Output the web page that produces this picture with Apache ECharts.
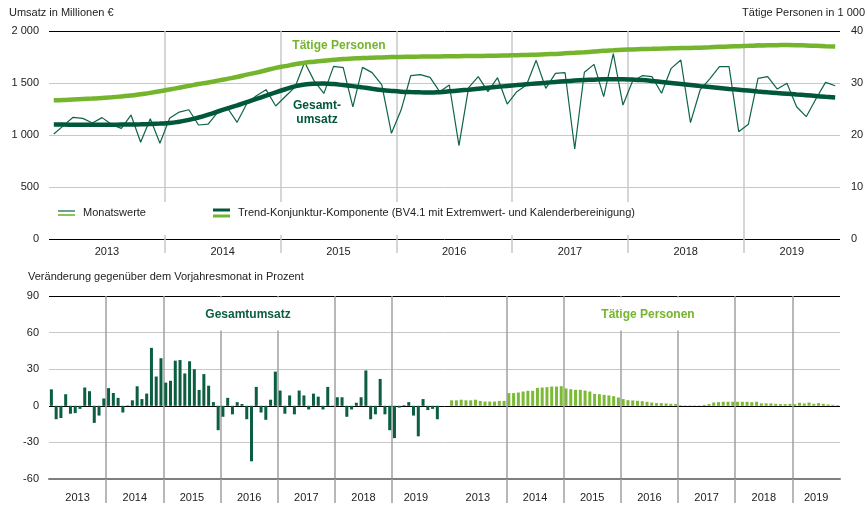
<!DOCTYPE html>
<html>
<head>
<meta charset="utf-8">
<script src="https://cdn.jsdelivr.net/npm/echarts@6/dist/echarts.min.js"></script>
<style>
  html, body { margin: 0; padding: 0; background: #fff; }
  #chart { width: 867px; height: 506px; }
</style>
</head>
<body>
<div id="chart"></div>
<script>
// Jahre und Positionen der Jahresbeschriftung (in Monaten ab Jan 2013)
var years = ['2013', '2014', '2015', '2016', '2017', '2018', '2019'];
var yearLabelPos = [6, 18, 30, 42, 54, 66, 77];
var yearBreaks = [12, 24, 36, 48, 60, 72];

// Umsatz in Millionen € – Monatswerte
var umsatzMonat = [
  1010, 1090, 1170, 1160, 1115, 1167, 1100, 1064, 1192, 930, 1157, 920,
  1160, 1220, 1243, 1096, 1104, 1220, 1260, 1122, 1300, 1378, 1436, 1279,
  1370, 1460, 1699, 1518, 1400, 1660, 1647, 1270, 1650, 1600, 1481, 1016,
  1240, 1570, 1580, 1554, 1417, 1481, 897, 1455, 1561, 1417, 1551, 1298,
  1417, 1481, 1718, 1449, 1593, 1599, 865, 1603, 1679, 1369, 1782, 1288,
  1520, 1570, 1561, 1401, 1641, 1721, 1119, 1433, 1540, 1657, 1657, 1032,
  1103, 1545, 1561, 1442, 1497, 1272, 1176, 1346, 1506, 1474
];
// Umsatz – Trend-Konjunktur-Komponente
var umsatzTrend = [
  1100, 1100, 1099, 1098, 1098, 1098, 1099, 1100, 1101, 1103, 1106, 1110,
  1115, 1128, 1145, 1168, 1196, 1226, 1256, 1285, 1315, 1347, 1378, 1410,
  1440, 1468, 1486, 1493, 1494, 1490, 1480, 1470, 1458, 1445, 1433, 1424,
  1417, 1413, 1410, 1408, 1412, 1420, 1428, 1436, 1445, 1454, 1463, 1472,
  1480, 1488, 1495, 1502, 1510, 1517, 1523, 1528, 1532, 1535, 1536, 1536,
  1533, 1528, 1520, 1510, 1500, 1490, 1480, 1470, 1461, 1452, 1443, 1435,
  1427, 1418, 1410, 1403, 1397, 1390, 1383, 1375, 1367, 1360
];
// Tätige Personen in 1 000 – Monatswerte
var personenMonat = [
  26.65, 26.7, 26.8, 26.95, 27.05, 27.1, 27.2, 27.4, 27.6, 27.8, 28.0, 28.3,
  28.9, 29.15, 29.4, 29.75, 30.1, 30.4, 30.8, 31.1, 31.55, 32.0, 32.4, 32.85,
  33.2, 33.55, 33.9, 34.1, 34.25, 34.45, 34.6, 34.7, 34.75, 34.85, 34.9, 34.95,
  35.0, 35.05, 35.1, 35.1, 35.15, 35.1, 35.15, 35.2, 35.2, 35.25, 35.25, 35.3,
  35.35, 35.4, 35.45, 35.5, 35.6, 35.7, 35.85, 35.95, 36.05, 36.15, 36.3, 36.4,
  36.45, 36.5, 36.55, 36.65, 36.65, 36.7, 36.75, 36.8, 36.9, 36.95, 37.0, 37.05,
  37.2, 37.5, 37.35, 37.3, 37.3, 37.25, 37.2, 37.1, 37.05, 37.0
];
// Tätige Personen – Trend-Konjunktur-Komponente
var personenTrend = [
  26.7, 26.75, 26.85, 26.92, 27.0, 27.1, 27.25, 27.42, 27.6, 27.85, 28.1, 28.4,
  28.75, 29.1, 29.45, 29.8, 30.1, 30.45, 30.8, 31.15, 31.6, 32.0, 32.45, 32.9,
  33.25, 33.6, 33.9, 34.1, 34.3, 34.45, 34.6, 34.7, 34.8, 34.87, 34.92, 34.98,
  35.02, 35.06, 35.08, 35.1, 35.12, 35.14, 35.16, 35.18, 35.2, 35.23, 35.26, 35.3,
  35.35, 35.4, 35.45, 35.52, 35.6, 35.7, 35.8, 35.92, 36.05, 36.18, 36.28, 36.38,
  36.46, 36.52, 36.57, 36.62, 36.67, 36.71, 36.75, 36.8, 36.87, 36.95, 37.02, 37.08,
  37.14, 37.2, 37.25, 37.28, 37.3, 37.28, 37.22, 37.15, 37.08, 37.02
];
// Veränderung gegenüber dem Vorjahresmonat in Prozent
var umsatzVeraenderung = [
  13.5, -11, -10, 9.5, -6.5, -6, -2.5, 15, 12, -14, -8, 6,
  14.5, 10.5, 6.5, -5.5, 0.3, 4.5, 16, 5.5, 10, 47.5, 24, 39,
  19, 20.5, 37, 37.5, 26.5, 36.5, 30, 13, 26, 16.5, 3, -20,
  -9, 6.5, -7, 3, 1.5, -11, -45.5, 15.5, -5.5, -11.5, 5, 28,
  12.5, -6.5, 8.5, -7, 12.5, 8.5, -3, 10, 7.5, -3, 15.5, 0.2,
  7, 7, -9, -3, 2.5, 7, 29, -11, -7, 22, -7, -20,
  -26.5, -1.5, 0.5, 3, -8, -25, 5.5, -3.5, -2.5, -11
];
var personenVeraenderung = [
  4.5, 4.5, 5, 4.5, 4.5, 5, 4, 3.5, 3.5, 3.5, 4, 4,
  10.4, 10.4, 10.9, 11.7, 12.3, 12.3, 14.7, 15, 15.3, 15.8, 15.8, 16.1,
  14.2, 13.6, 13.1, 13.1, 12.5, 11.7, 9.8, 9.5, 9, 8.5, 7.9, 6.8,
  5.5, 4.6, 4.4, 4.1, 3.8, 3.3, 2.7, 2.2, 2.2, 1.9, 1.6, 1.4,
  0.5, 0.3, 0.3, 0.3, 0.3, 0.8, 1.4, 2.7, 3, 3.3, 3.3, 3.3,
  3.3, 3.3, 3.3, 3, 3.3, 2, 2, 2, 1.6, 1.4, 1.4, 1.6,
  1.4, 2.5, 1.9, 2.7, 1.6, 2.2, 1.6, 1.1, 0.8, 0.5
];

var dunkel = '#00573b';
var hell = '#74b52d';
var font = "'Liberation Sans', Arial, sans-serif";

// Monatskategorien
var monate = [];
for (var y = 0; y < years.length; y++) {
  for (var m = 1; m <= 12; m++) {
    if (monate.length < umsatzMonat.length) monate.push(years[y] + '-' + (m < 10 ? '0' + m : m));
  }
}
// unteres Diagramm: Umsatz (volle 7 Jahre) + Personen nebeneinander
var slotsUmsatz = years.length * 12;
var katUnten = [];
var barsUmsatz = [];
var barsPersonen = [];
for (var i = 0; i < slotsUmsatz; i++) {
  katUnten.push('U' + i);
  barsUmsatz.push(i < umsatzVeraenderung.length ? umsatzVeraenderung[i] : null);
  barsPersonen.push(null);
}
for (var j = 0; j < personenVeraenderung.length; j++) {
  katUnten.push('P' + j);
  barsUmsatz.push(null);
  barsPersonen.push(personenVeraenderung[j]);
}
var breaksUnten = yearBreaks.concat(yearBreaks.map(function (b) { return b + slotsUmsatz; }));
var labelPosUnten = yearLabelPos.concat(yearLabelPos.map(function (b) { return b + slotsUmsatz; }));

function jahrLabel(pos) {
  return function (v) {
    var k = pos.indexOf(Math.round(v));
    return k < 0 ? '' : years[k % years.length];
  };
}
function tausend(v) {
  return String(v).replace(/\B(?=(\d{3})+(?!\d))/g, ' ');
}

var chart = echarts.init(document.getElementById('chart'));
var axisText = { color: '#222', fontSize: 11, fontFamily: font };

chart.setOption({
  animation: false,
  backgroundColor: '#fff',
  textStyle: { fontFamily: font },
  grid: [
    { left: 49, top: 31, width: 791, height: 208 },
    { left: 49, top: 296, width: 791, height: 183 }
  ],
  xAxis: [
    { type: 'category', gridIndex: 0, data: monate, show: false },
    {
      type: 'value', gridIndex: 0, min: 0, max: umsatzMonat.length, position: 'bottom',
      axisLine: { show: false, onZero: false },
      axisTick: { show: true, customValues: yearBreaks, length: 14, lineStyle: { color: '#c8c8c8', width: 1.5 } },
      splitLine: { show: true, lineStyle: { color: '#c8c8c8', width: 1.5 } },
      axisLabel: Object.assign({ customValues: yearLabelPos, margin: 7, formatter: jahrLabel(yearLabelPos) }, axisText)
    },
    { type: 'category', gridIndex: 1, data: katUnten, show: false },
    {
      type: 'value', gridIndex: 1, min: 0, max: katUnten.length, position: 'bottom',
      axisLine: { show: true, onZero: false, lineStyle: { color: '#7f7f7f', width: 2 } },
      axisTick: { show: true, customValues: breaksUnten, length: 24, lineStyle: { color: '#a0a0a0', width: 1.5 } },
      splitLine: { show: true, lineStyle: { color: '#a0a0a0', width: 1.5 } },
      axisLabel: Object.assign({ customValues: labelPosUnten, margin: 13, formatter: jahrLabel(labelPosUnten) }, axisText)
    }
  ],
  yAxis: [
    {
      type: 'value', gridIndex: 0, min: 0, max: 2000, interval: 500,
      axisLine: { show: false }, axisTick: { show: false },
      axisLabel: Object.assign({ margin: 10, formatter: tausend }, axisText),
      splitLine: { lineStyle: { color: ['#000', '#c8c8c8', '#c8c8c8', '#c8c8c8', '#000'], width: 1 } }
    },
    {
      type: 'value', gridIndex: 0, min: 0, max: 40, interval: 10, position: 'right',
      axisLine: { show: false }, axisTick: { show: false }, splitLine: { show: false },
      axisLabel: Object.assign({ margin: 11 }, axisText)
    },
    {
      type: 'value', gridIndex: 1, min: -60, max: 90, interval: 30,
      axisLine: { show: false }, axisTick: { show: false },
      axisLabel: Object.assign({ margin: 10 }, axisText),
      splitLine: { lineStyle: { color: ['#7f7f7f', '#c8c8c8', '#000', '#c8c8c8', '#c8c8c8', '#000'], width: 1 } }
    }
  ],
  series: [
    { name: 'Umsatz Monatswerte', type: 'line', xAxisIndex: 0, yAxisIndex: 0, data: umsatzMonat,
      symbol: 'none', lineStyle: { color: '#0d6446', width: 1.2 }, z: 3 },
    { name: 'Umsatz Trend', type: 'line', xAxisIndex: 0, yAxisIndex: 0, data: umsatzTrend,
      symbol: 'none', smooth: true, lineStyle: { color: dunkel, width: 4.5 }, z: 4 },
    { name: 'Personen Monatswerte', type: 'line', xAxisIndex: 0, yAxisIndex: 1, data: personenMonat,
      symbol: 'none', lineStyle: { color: hell, width: 1.5 }, z: 3 },
    { name: 'Personen Trend', type: 'line', xAxisIndex: 0, yAxisIndex: 1, data: personenTrend,
      symbol: 'none', smooth: true, lineStyle: { color: hell, width: 4.5 }, z: 4 },
    { name: 'Gesamtumsatz', type: 'bar', xAxisIndex: 2, yAxisIndex: 2, data: barsUmsatz,
      barWidth: 3, barGap: '-100%', itemStyle: { color: '#0b5e40' } },
    { name: 'Tätige Personen', type: 'bar', xAxisIndex: 2, yAxisIndex: 2, data: barsPersonen,
      barWidth: 3, barGap: '-100%', itemStyle: { color: '#7cba35' } }
  ],
  graphic: [
    { type: 'text', x: 9, y: 13, z: 100, style: { text: 'Umsatz in Millionen €', fill: '#222', font: '11px ' + font, textVerticalAlign: 'middle' } },
    { type: 'text', x: 865, y: 13, z: 100, style: { text: 'Tätige Personen in 1 000', fill: '#222', font: '11px ' + font, textAlign: 'right', textVerticalAlign: 'middle' } },
    { type: 'text', x: 28, y: 277, z: 100, style: { text: 'Veränderung gegenüber dem Vorjahresmonat in Prozent', fill: '#222', font: '11px ' + font, textVerticalAlign: 'middle' } },
    // Beschriftungen im oberen Diagramm
    { type: 'text', x: 339, y: 46, z: 100, style: { text: 'Tätige Personen', fill: hell, font: 'bold 12px ' + font, textAlign: 'center', textVerticalAlign: 'middle' } },
    { type: 'text', x: 317, y: 113, z: 100, style: { text: 'Gesamt-\numsatz', fill: dunkel, font: 'bold 12px ' + font, lineHeight: 14, textAlign: 'center', textVerticalAlign: 'middle' } },
    // Legende
    { type: 'rect', z: 50, shape: { x: 51, y: 202, width: 620, height: 33 }, style: { fill: '#fff' } },
    { type: 'line', z: 60, shape: { x1: 58, y1: 211, x2: 75, y2: 211 }, style: { stroke: '#0d6446', lineWidth: 1.2 } },
    { type: 'line', z: 60, shape: { x1: 58, y1: 215, x2: 75, y2: 215 }, style: { stroke: hell, lineWidth: 1.6 } },
    { type: 'text', x: 83, y: 213, z: 100, style: { text: 'Monatswerte', fill: '#222', font: '11px ' + font, textVerticalAlign: 'middle' } },
    { type: 'line', z: 60, shape: { x1: 213, y1: 210, x2: 230, y2: 210 }, style: { stroke: dunkel, lineWidth: 3 } },
    { type: 'line', z: 60, shape: { x1: 213, y1: 216, x2: 230, y2: 216 }, style: { stroke: hell, lineWidth: 3 } },
    { type: 'text', x: 238, y: 213, z: 100, style: { text: 'Trend-Konjunktur-Komponente (BV4.1 mit Extremwert- und Kalenderbereinigung)', fill: '#222', font: '11px ' + font, textVerticalAlign: 'middle' } },
    // Beschriftungen im unteren Diagramm
    { type: 'rect', z: 50, shape: { x: 185, y: 297.5, width: 130, height: 33 }, style: { fill: '#fff' } },
    { type: 'text', x: 248, y: 315, z: 100, style: { text: 'Gesamtumsatz', fill: '#0b5e40', font: 'bold 12px ' + font, textAlign: 'center', textVerticalAlign: 'middle' } },
    { type: 'rect', z: 50, shape: { x: 592, y: 297.5, width: 120, height: 33 }, style: { fill: '#fff' } },
    { type: 'text', x: 648, y: 315, z: 100, style: { text: 'Tätige Personen', fill: hell, font: 'bold 12px ' + font, textAlign: 'center', textVerticalAlign: 'middle' } }
  ]
});
</script>
</body>
</html>
